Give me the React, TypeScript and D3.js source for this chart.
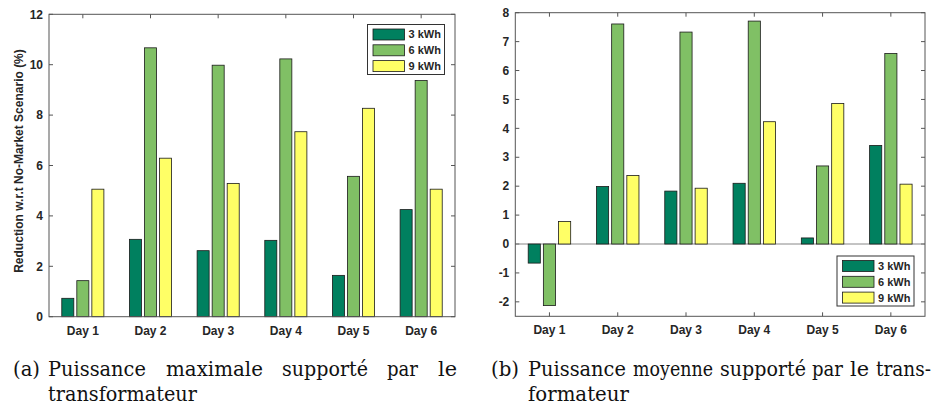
import React, { useLayoutEffect, useRef, useState } from "react";
import * as d3 from "d3";

const days = ["Day 1", "Day 2", "Day 3", "Day 4", "Day 5", "Day 6"];
const seriesNames = ["3 kWh", "6 kWh", "9 kWh"];
const seriesColors = ["#00805F", "#80C065", "#FFFF66"];

// (a) Maximum power reduction (%)
const maxPower3 = [0.73, 3.07, 2.62, 3.03, 1.64, 4.25];
const maxPower6 = [1.43, 10.67, 9.98, 10.23, 5.57, 9.37];
const maxPower9 = [5.06, 6.29, 5.29, 7.34, 8.27, 5.06];
const leftTicks = [0, 2, 4, 6, 8, 10, 12];

// (b) Mean power reduction (%)
const meanPower3 = [-0.66, 1.99, 1.83, 2.1, 0.21, 3.41];
const meanPower6 = [-2.13, 7.61, 7.33, 7.71, 2.7, 6.59];
const meanPower9 = [0.78, 2.37, 1.93, 4.23, 4.86, 2.07];
const rightTicks = [-2, -1, 0, 1, 2, 3, 4, 5, 6, 7, 8];

const yTitle = "Reduction w.r.t No-Market Scenario (%)";

const captionA1 = ["(a)", "Puissance", "maximale", "supporté", "par", "le"];
const captionA2 = ["transformateur"];
const captionB1 = ["(b)", "Puissance", "moyenne", "supporté", "par", "le", "trans-"];
const captionB2 = ["formateur"];

const FONT = "'Liberation Sans', Arial, Helvetica, sans-serif";
const SERIF = "'DejaVu Serif', 'Liberation Serif', serif";
const TXT = "#262626";
const AX = "#555";

type PanelProps = {
  x0: number; x1: number; y0: number; y1: number;
  domain: [number, number];
  ticks: number[];
  series: number[][];
  legend: { x: number; y: number };
  zeroLine: boolean;
};

function Panel({ x0, x1, y0, y1, domain, ticks, series, legend, zeroLine }: PanelProps) {
  const x = d3.scaleLinear().domain([0.5, days.length + 0.5]).range([x0, x1]);
  const y = d3.scaleLinear().domain(domain).range([y1, y0]);
  const groupWidth = 3 / 4.5;
  const step = groupWidth / 3;
  const barW = step * 0.8;
  const tl = 4;
  return (
    <g>
      {ticks.map((t) => (
        <g key={"yt" + t}>
          <line x1={x0} x2={x0 + tl} y1={y(t)} y2={y(t)} stroke={AX} />
          <line x1={x1} x2={x1 - tl} y1={y(t)} y2={y(t)} stroke={AX} />
          <text x={x0 - 6} y={y(t)} dy="0.35em" textAnchor="end" fontFamily={FONT}
            fontWeight="bold" fontSize={12} fill={TXT}>{t}</text>
        </g>
      ))}
      {days.map((d, i) => (
        <g key={"xt" + d}>
          <line x1={x(i + 1)} x2={x(i + 1)} y1={y1} y2={y1 - tl} stroke={AX} />
          <line x1={x(i + 1)} x2={x(i + 1)} y1={y0} y2={y0 + tl} stroke={AX} />
          <text x={x(i + 1)} y={y1 + 18} textAnchor="middle" fontFamily={FONT}
            fontWeight="bold" fontSize={12} fill={TXT}>{d}</text>
        </g>
      ))}
      {zeroLine && <line x1={x0} x2={x1} y1={y(0)} y2={y(0)} stroke="#888" strokeWidth={1} />}
      {series.map((vals, s) =>
        vals.map((v, i) => {
          const cx = x(i + 1 + (s - 1) * step);
          const w = x(barW) - x(0);
          const top = Math.min(y(v), y(0));
          const h = Math.abs(y(v) - y(0));
          return (
            <rect key={s + "-" + i} x={cx - w / 2} y={top} width={w} height={h}
              fill={seriesColors[s]} stroke="#1a1a1a" strokeWidth={0.8} />
          );
        })
      )}
      <rect x={x0} y={y0} width={x1 - x0} height={y1 - y0} fill="none" stroke={AX} strokeWidth={1} />
      <g transform={`translate(${legend.x},${legend.y})`}>
        <rect x={0} y={0} width={77} height={50} fill="white" stroke="#333" strokeWidth={1} />
        {seriesNames.map((n, s) => (
          <g key={n} transform={`translate(0,${4.5 + s * 15.8})`}>
            <rect x={5.5} y={0} width={31.5} height={11} fill={seriesColors[s]} stroke="#1a1a1a" strokeWidth={0.8} />
            <text x={41} y={5.5} dy="0.36em" fontFamily={FONT} fontWeight="bold" fontSize={11} fill={TXT}>{n}</text>
          </g>
        ))}
      </g>
    </g>
  );
}

// word layout (left edge, width) for the caption lines
const layA1: [number, number][] = [[13, 27], [48, 98], [166, 97], [282, 86], [387, 31], [438, 19]];
const layA2: [number, number][] = [[48, 149]];
const layB1: [number, number][] = [[491, 28], [528, 98], [633, 80], [720, 86], [812, 31], [850, 19], [876, 55]];
const layB2: [number, number][] = [[528, 101]];

function FitText({ text, x, y, width }: { text: string; x: number; y: number; width: number }) {
  const ref = useRef<SVGTextElement>(null);
  const [sx, setSx] = useState(1);
  useLayoutEffect(() => {
    if (ref.current) {
      const len = ref.current.getComputedTextLength();
      if (len > 0) setSx(width / len);
    }
  }, [text, width]);
  return (
    <g transform={`translate(${x},${y}) scale(${sx},1)`}>
      <text ref={ref} x={0} y={0}>{text}</text>
    </g>
  );
}

function Words({ words, lay, y }: { words: string[]; lay: [number, number][]; y: number }) {
  return (
    <>
      {words.map((w, i) => (
        <FitText key={w + i} text={w} x={lay[i][0]} y={y} width={lay[i][1]} />
      ))}
    </>
  );
}

export default function App() {
  return (
    <div style={{ position: "absolute", left: 0, top: 0 }}>
      <svg width={936} height={411} style={{ display: "block", background: "white" }}>
        <Panel x0={49} x1={455} y0={14.3} y1={316.7} domain={[0, 12]} ticks={leftTicks}
          series={[maxPower3, maxPower6, maxPower9]} legend={{ x: 367.5, y: 24.5 }} zeroLine={false} />
        <text transform="translate(23,161) rotate(-90)" textAnchor="middle" fontFamily={FONT}
          fontWeight="bold" fontSize={12} fill={TXT}>{yTitle}</text>
        <Panel x0={515.3} x1={925} y0={12.7} y1={316.3} domain={[-2.5, 8]} ticks={rightTicks}
          series={[meanPower3, meanPower6, meanPower9]} legend={{ x: 837, y: 256 }} zeroLine={true} />

        <g fontFamily={SERIF} fontSize={21} fill="#111">
          <Words words={captionA1} lay={layA1} y={376} />
          <Words words={captionA2} lay={layA2} y={401} />
          <Words words={captionB1} lay={layB1} y={376} />
          <Words words={captionB2} lay={layB2} y={401} />
        </g>
      </svg>
    </div>
  );
}
